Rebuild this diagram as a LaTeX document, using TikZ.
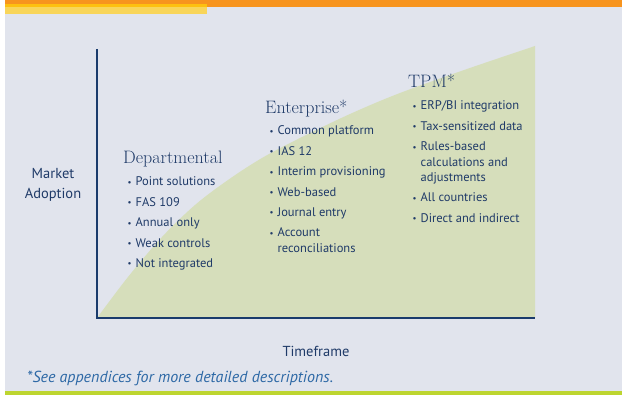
\documentclass[tikz,border=0pt]{standalone}
\usepackage{fontspec}
\setsansfont{PT Sans}
\usetikzlibrary{positioning}

\definecolor{navy}{HTML}{1F3A68}
\definecolor{axisblue}{HTML}{1A3B6C}
\definecolor{notblue}{HTML}{2E69A6}
\definecolor{paper}{HTML}{E1E4ED}
\definecolor{sage}{HTML}{D6DEBB}
\definecolor{barorange}{HTML}{F7941E}
\definecolor{baryellow}{HTML}{FDC010}
\definecolor{barlight}{HTML}{F8D55A}
\definecolor{barlime}{HTML}{BDD530}

\newcommand{\bul}{\raisebox{0.12ex}{\scalebox{0.7}{\textbullet}}\hspace{0.32em}}
\newcommand{\hang}{\hphantom{\bul}}

\begin{document}
\begin{tikzpicture}[x=1pt,y=-1pt]
		\tikzstyle{head}=[anchor=base west, inner sep=0pt, text=navy, font=\fontsize{18}{20}\selectfont]
		\tikzstyle{item}=[inner sep=0pt, align=left, text=navy, font=\sffamily\fontsize{12.5}{15.3}\selectfont]
		\tikzstyle{axis}=[line width=1.8pt, draw=axisblue]
		\useasboundingbox (0,0) rectangle (622,395);
		
		% page, bars
		\fill[white] (0,0) rectangle (622,395);
		\fill[paper] (5,7) rectangle (622,391);
		\fill[barorange] (5,0) rectangle (622,7);
		\fill[baryellow] (5,4) rectangle (207,7);
		\fill[barlight] (5,7) rectangle (207,14);
		\fill[barlime] (5,391) rectangle (622,395);
		
		% adoption curve
		\fill[sage] plot[smooth, tension=0.55] coordinates {(97,318) (128,277) (162,237) (195,205) (228,180) (262,158) (300,138) (350,114) (400,93) (467,69) (535,46)}
			-- (535,318) -- cycle;
		
		\coordinate (o)    at (97,318);
		\coordinate (ytop) at (97,49);
		\coordinate (xend) at (535,318);
		\draw[axis] (ytop) -- (o) -- (xend);
		
		\node[item, align=center, font=\sffamily\fontsize{14.5}{20}\selectfont] (ylab) at (53,185) {Market\\Adoption};
		\node[item, anchor=base, font=\sffamily\fontsize{14.5}{16}\selectfont] (xlab) at (316,357) {Timeframe};
		\node[item, anchor=base west, text=notblue, font=\sffamily\itshape\fontsize{16}{18}\selectfont] (note) at (27,383) {*See appendices for more detailed descriptions.};
		
		% Departmental
		\node[head] (dep) at (123,164) {Departmental};
		\node[item] (dep1) [below right=22pt and 4.5pt of dep.base west, anchor=base west] {\bul Point solutions};
		\node[item] (dep2) [below=20.4pt of dep1.base west, anchor=base west] {\bul FAS 109};
		\node[item] (dep3) [below=20.4pt of dep2.base west, anchor=base west] {\bul Annual only};
		\node[item] (dep4) [below=20.4pt of dep3.base west, anchor=base west] {\bul Weak controls};
		\node[item] (dep5) [below=20.4pt of dep4.base west, anchor=base west] {\bul Not integrated};
		
		% Enterprise
		\node[head] (ent) at (265,114) {Enterprise*};
		\node[item] (ent1) [below right=21pt and 4.5pt of ent.base west, anchor=base west] {\bul Common platform};
		\node[item] (ent2) [below=20.4pt of ent1.base west, anchor=base west] {\bul IAS 12};
		\node[item] (ent3) [below=20.4pt of ent2.base west, anchor=base west] {\bul Interim provisioning};
		\node[item] (ent4) [below=20.4pt of ent3.base west, anchor=base west] {\bul Web-based};
		\node[item] (ent5) [below=20.4pt of ent4.base west, anchor=base west] {\bul Journal entry};
		\node[item] (ent6) [below=35.7pt of ent5.base west, anchor=base west] {\bul Account\\\hang reconciliations};
		
		% TPM
		\node[head] (tpm) at (408,88) {TPM*};
		\node[item] (tpm1) [below right=22pt and 4.5pt of tpm.base west, anchor=base west] {\bul ERP/BI integration};
		\node[item] (tpm2) [below=20.4pt of tpm1.base west, anchor=base west] {\bul Tax-sensitized data};
		\node[item] (tpm3) [below=51pt of tpm2.base west, anchor=base west] {\bul Rules-based\\\hang calculations and\\\hang adjustments};
		\node[item] (tpm4) [below=20.4pt of tpm3.base west, anchor=base west] {\bul All countries};
		\node[item] (tpm5) [below=20.4pt of tpm4.base west, anchor=base west] {\bul Direct and indirect};
		
\end{tikzpicture}
\end{document}
